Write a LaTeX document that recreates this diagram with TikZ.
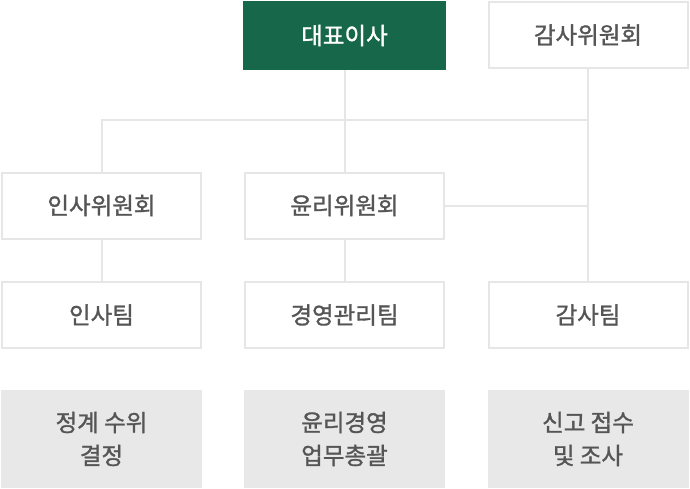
\documentclass[tikz,border=0pt]{standalone}
\usepackage{fontspec}
\newfontfamily\kr{Noto Sans CJK KR}[FakeBold=1.3]
\definecolor{boxline}{HTML}{E6E6E6}
\definecolor{graybg}{HTML}{E8E8E8}
\definecolor{ceogreen}{HTML}{17684A}
\definecolor{txt}{HTML}{555555}
\begin{document}
\begin{tikzpicture}[x=1pt,y=1pt,
  conn/.style={draw=boxline,line width=2pt},
  wbox/.style={draw=boxline,line width=2pt,fill=white,minimum width=199pt,minimum height=66pt,inner sep=0pt,text=txt,font=\kr\fontsize{23.5}{28}\selectfont},
  gbox/.style={fill=graybg,minimum width=201pt,minimum height=98pt,inner sep=0pt,text=txt,align=center,font=\kr\fontsize{23.5}{33}\selectfont},
  cbox/.style={fill=ceogreen,minimum width=203pt,minimum height=69pt,inner sep=0pt,text=white,font=\kr\fontsize{23.5}{28}\selectfont}]
\useasboundingbox (0,0) rectangle (690,-488);
\coordinate (j) at (588,-120);
\node[cbox] (ceo) at (344.5,-35.5) {대표이사};
\node[wbox] (audit) at (588,-35) {감사위원회};
\node[wbox] (insa) at (101.5,-205.5) {인사위원회};
\node[wbox] (ethics) at (344.5,-205.5) {윤리위원회};
\node[wbox] (insateam) at (101.5,-315) {인사팀};
\node[wbox] (mgmt) at (344.5,-315) {경영관리팀};
\node[wbox] (auditteam) at (588,-315) {감사팀};
\node[gbox] (g1) at (101.5,-439) {정계 수위\\결정};
\node[gbox] (g2) at (344.5,-439) {윤리경영\\업무총괄};
\node[gbox] (g3) at (588,-439) {신고 접수\\및 조사};
\draw[conn] (ceo.south) -- (ethics.north);
\draw[conn] (insa.north) |- (j);
\draw[conn] (audit.south) -- (auditteam.north);
\draw[conn] (ethics.east) -- (ethics.east -| audit.south);
\draw[conn] (insa.south) -- (insateam.north);
\draw[conn] (ethics.south) -- (mgmt.north);
\end{tikzpicture}
\end{document}
